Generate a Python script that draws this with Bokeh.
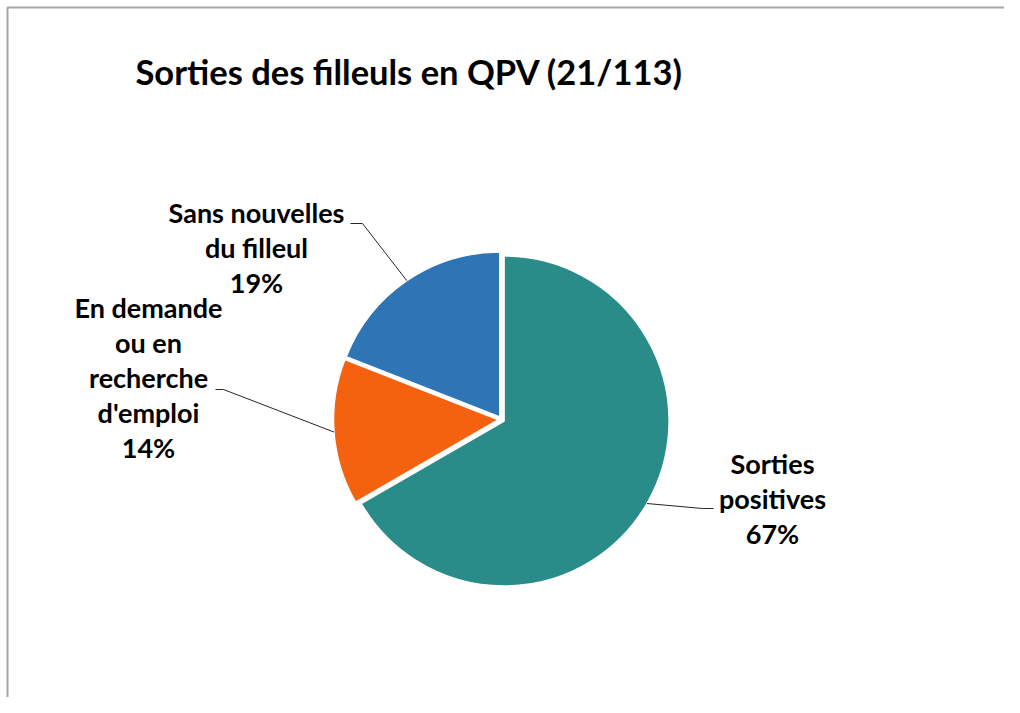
import math
from bokeh.plotting import figure
from bokeh.models import Range1d, ColumnDataSource
from bokeh.core.properties import value
from bokeh.embed import file_html
from bokeh.resources import INLINE

# ---------------- data ----------------
title_text = "Sorties des filleuls en QPV (21/113)"
categories = ["Sorties positives", "En demande ou en recherche d'emploi", "Sans nouvelles du filleul"]
counts = [14, 3, 4]
colors = ["#2A8C89", "#F5620F", "#2E75B6"]

# ---------------- layout ----------------
W, H = 1004, 697
FONT = "Lato"


def X(px):
    return px


def Y(py):
    return H - py


label_lines = [["Sorties", "positives"],
               ["En demande", "ou en", "recherche", "d'emploi"],
               ["Sans nouvelles", "du filleul"]]
label_anchor = [(772, 463), (148, 307), (256, 212)]   # centre x, first baseline (page px)
leader_elbow = [((702, 508), (713, 508)), ((223, 389), (215, 389)), ((362, 223), (350, 223))]
LINE_STEP = 35
CX, CY, R, EXPLODE = X(501), Y(419), 165, 3

p = figure(width=W, height=H, x_range=Range1d(0, W), y_range=Range1d(0, H),
           output_backend="svg", toolbar_location=None, min_border=0)
p.axis.visible = False
p.grid.visible = False
p.outline_line_color = None
p.background_fill_color = "white"
p.border_fill_color = "white"

# chart area border (extends past the right and bottom edges)
p.line([X(7), X(7), W + 20], [-20, Y(7), Y(7)], line_color="#A6A6A6", line_width=2)

# title
p.text(x=[X(135)], y=[Y(71)], text=[title_text], text_font=value(FONT),
       text_font_style="bold", text_font_size="34.5px", text_color="black",
       text_align="left", text_baseline="alphabetic")

# pie
total = sum(counts)
starts, ends, xs, ys, mids = [], [], [], [], []
cum = 0.0
for c in counts:
    f0 = cum / total
    cum += c
    f1 = cum / total
    a0 = math.pi / 2 - 2 * math.pi * f0
    a1 = math.pi / 2 - 2 * math.pi * f1
    m = (a0 + a1) / 2
    starts.append(a0)
    ends.append(a1)
    mids.append(m)
    xs.append(CX + EXPLODE * math.cos(m))
    ys.append(CY + EXPLODE * math.sin(m))

src = ColumnDataSource(dict(x=xs, y=ys, start=starts, end=ends, color=colors, cat=categories))
p.wedge(x="x", y="y", radius=R, start_angle="start", end_angle="end", direction="clock",
        fill_color="color", line_color="white", line_width=1.5, source=src)

# leader lines and labels
for i, c in enumerate(counts):
    m = mids[i]
    sx = xs[i] + R * math.cos(m)
    sy = ys[i] + R * math.sin(m)
    (ex1, ey1), (ex2, ey2) = leader_elbow[i]
    p.line([sx, X(ex1), X(ex2)], [sy, Y(ey1), Y(ey2)], line_color="#262626", line_width=1)
    pct = f"{round(100 * c / total)}%"
    lines = label_lines[i] + [pct]
    ax, ay = label_anchor[i]
    for k, t in enumerate(lines):
        p.text(x=[X(ax)], y=[Y(ay + k * LINE_STEP)], text=[t], text_font=value(FONT),
               text_font_style="bold", text_font_size="27px", text_color="black",
               text_align="center", text_baseline="alphabetic")

open("out.html", "w").write(file_html(p, INLINE))
